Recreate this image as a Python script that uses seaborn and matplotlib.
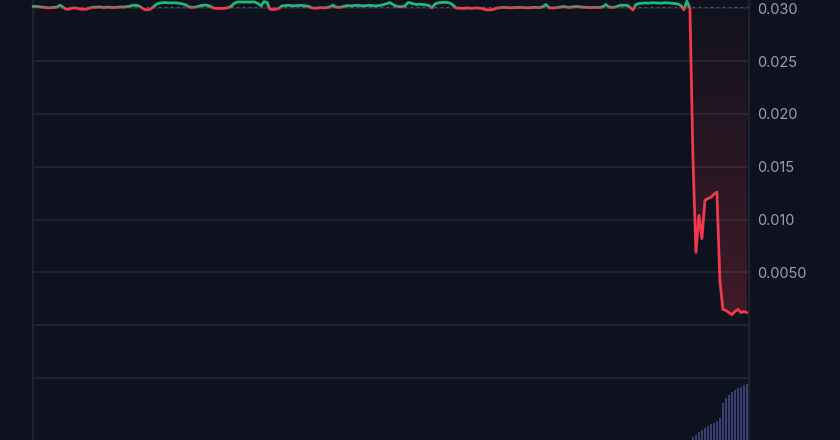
import matplotlib.pyplot as plt
import numpy as np
import pandas as pd
import seaborn as sns
from matplotlib.patches import PathPatch, Rectangle
from matplotlib.path import Path
from matplotlib.ticker import FixedFormatter, FixedLocator

BG = '#0e121e'
GRID = '#222736'
UP = '#22b87a'
DOWN = '#f0394b'
TEXT = '#9aa0ab'

BASELINE = 0.0301

# price, one value per candle
price = [
    0.03016, 0.03018, 0.03014, 0.03010, 0.03005, 0.03003, 0.03005, 0.03006, 0.03010, 0.03029,
    0.03010, 0.02991, 0.02992, 0.03000, 0.03003, 0.02998, 0.02991, 0.02990, 0.02993, 0.03003,
    0.03010, 0.03008, 0.03012, 0.03008, 0.03006, 0.03010, 0.03008, 0.03006, 0.03008, 0.03012,
    0.03010, 0.03014, 0.03018, 0.03025, 0.03029, 0.03025, 0.03010, 0.02990, 0.02984, 0.02990,
    0.03010, 0.03035, 0.03048, 0.03052, 0.03054, 0.03052, 0.03050, 0.03052, 0.03050, 0.03046,
    0.03040, 0.03030, 0.03012, 0.03008, 0.03010, 0.03016, 0.03025, 0.03029, 0.03029, 0.03020,
    0.03003, 0.02998, 0.03000, 0.02997, 0.03000, 0.03005, 0.03015, 0.03045, 0.03058, 0.03060,
    0.03058, 0.03060, 0.03058, 0.03060, 0.03058, 0.03045, 0.03022, 0.03063, 0.03055, 0.02991,
    0.02988, 0.02991, 0.03000, 0.03022, 0.03025, 0.03028, 0.03025, 0.03022, 0.03025, 0.03028,
    0.03025, 0.03022, 0.03015, 0.03003, 0.03000, 0.03003, 0.03005, 0.03003, 0.03006, 0.03012,
    0.03029, 0.03010, 0.03008, 0.03012, 0.03022, 0.03025, 0.03022, 0.03025, 0.03028, 0.03025,
    0.03022, 0.03025, 0.03028, 0.03025, 0.03022, 0.03025, 0.03028, 0.03035, 0.03045, 0.03054,
    0.03035, 0.03020, 0.03016, 0.03014, 0.03022, 0.03054, 0.03050, 0.03040, 0.03035, 0.03038,
    0.03035, 0.03032, 0.03025, 0.03003, 0.03040, 0.03050, 0.03054, 0.03056, 0.03054, 0.03050,
    0.03030, 0.03003, 0.03000, 0.02998, 0.03000, 0.03002, 0.02998, 0.03000, 0.03003, 0.03000,
    0.02995, 0.02986, 0.02984, 0.02986, 0.02995, 0.03003, 0.03006, 0.03008, 0.03005, 0.03003,
    0.03006, 0.03005, 0.03008, 0.03006, 0.03005, 0.03003, 0.03006, 0.03008, 0.03006, 0.03005,
    0.03015, 0.03035, 0.03005, 0.03003, 0.03003, 0.03008, 0.03012, 0.03016, 0.03010, 0.03008,
    0.03012, 0.03016, 0.03014, 0.03010, 0.03008, 0.03006, 0.03005, 0.03006, 0.03008, 0.03006,
    0.03015, 0.03035, 0.03010, 0.03008, 0.03010, 0.03020, 0.03029, 0.03027, 0.03029, 0.03010,
    0.02984, 0.03035, 0.03045, 0.03048, 0.03050, 0.03048, 0.03050, 0.03052, 0.03050, 0.03048,
    0.03050, 0.03052, 0.03050, 0.03048, 0.03045, 0.03040, 0.03025, 0.02985, 0.03067, 0.03000,
    0.0160, 0.0069, 0.0104, 0.0082, 0.0118, 0.0120, 0.0121, 0.0124, 0.0126, 0.0042,
    0.0015, 0.0014, 0.0012, 0.0010, 0.0013, 0.0015, 0.0012, 0.0013, 0.0012,
]

# volume only shows up in the last candles
volume_start = 220
volume = [3, 5, 8, 10, 12, 14, 16, 17, 19, 22, 37, 42, 45, 48, 50, 52, 53, 55, 56]

y_ticks = [-0.005, 0.0, 0.005, 0.010, 0.015, 0.020, 0.025, 0.030]
y_labels = ['', '', '0.0050', '0.010', '0.015', '0.020', '0.025', '0.030']


def add_gradient_fill(ax, x, y, baseline, color):
    """Red gradient between the line and the baseline, where the line is below it."""
    poly = ax.fill_between(x, y, baseline, where=y < baseline, interpolate=True,
                           facecolor='none', edgecolor='none')
    path = Path.make_compound_path(*poly.get_paths())
    clip = PathPatch(path, transform=ax.transData, facecolor='none', edgecolor='none')
    ax.add_patch(clip)

    rgba = np.zeros((256, 1, 4))
    rgba[:, 0, :3] = plt.matplotlib.colors.to_rgb(color)
    rgba[:, 0, 3] = np.linspace(0.22, 0.02, 256)
    img = ax.imshow(rgba, extent=[x.min(), x.max(), y.min(), baseline],
                    origin='lower', aspect='auto', zorder=1)
    img.set_clip_path(clip)


sns.set_theme(style='dark', rc={
    'figure.facecolor': BG,
    'axes.facecolor': BG,
    'axes.edgecolor': GRID,
    'grid.color': GRID,
})
plt.rcParams['font.family'] = ['Inter', 'DejaVu Sans']

df = pd.DataFrame({'t': np.arange(len(price)), 'price': price})
x = df['t'].to_numpy(dtype=float)
y = df['price'].to_numpy()

fig = plt.figure(figsize=(8.4, 4.4), dpi=100)
ax = fig.add_axes([33 / 840, 0, 716 / 840, 1])

add_gradient_fill(ax, x, y, BASELINE, DOWN)

# same line twice, clipped above / below the baseline
sns.lineplot(data=df, x='t', y='price', ax=ax, color=UP, linewidth=2.0, zorder=3)
sns.lineplot(data=df, x='t', y='price', ax=ax, color=DOWN, linewidth=2.0, zorder=3)
up_line, down_line = ax.lines[-2], ax.lines[-1]
up_line.set_clip_path(Rectangle((-50, BASELINE), 1000, 1, transform=ax.transData))
down_line.set_clip_path(Rectangle((-50, BASELINE - 1), 1000, 1, transform=ax.transData))

ax.axhline(BASELINE, color='#8d929c', linewidth=0.9, linestyle=(0, (0.8, 4)), zorder=2)

ax.set_xlim(0, len(price) - 1 + 0.7)
ax.set_ylim(-0.01086, 0.03078)
ax.set_xticks([])
ax.set_xlabel('')
ax.set_ylabel('')
ax.grid(axis='y', color=GRID, linewidth=1.2, zorder=0)
for side in ['top', 'bottom']:
    ax.spines[side].set_visible(False)
for side in ['left', 'right']:
    ax.spines[side].set_color(GRID)
    ax.spines[side].set_linewidth(1.2)

# volume overlay at the bottom
vax = ax.twinx()
vol_x = np.arange(volume_start, volume_start + len(volume))
vax.bar(vol_x, volume, width=0.9, color='#383f72', linewidth=0, zorder=1)
vax.set_ylim(0, max(volume) / 0.127)
vax.set_xlim(ax.get_xlim())
vax.axis('off')

# twinx moves the price ticks to the left, put them back on the right
ax.yaxis.set_major_locator(FixedLocator(y_ticks))
ax.yaxis.set_major_formatter(FixedFormatter(y_labels))
ax.yaxis.tick_right()
ax.yaxis.set_label_position('right')
ax.tick_params(axis='y', left=False, labelleft=False, right=False, labelright=True,
               length=0, pad=6, labelsize=10.5, labelcolor=TEXT)

fig.savefig('out.png', dpi=100, facecolor=BG)
